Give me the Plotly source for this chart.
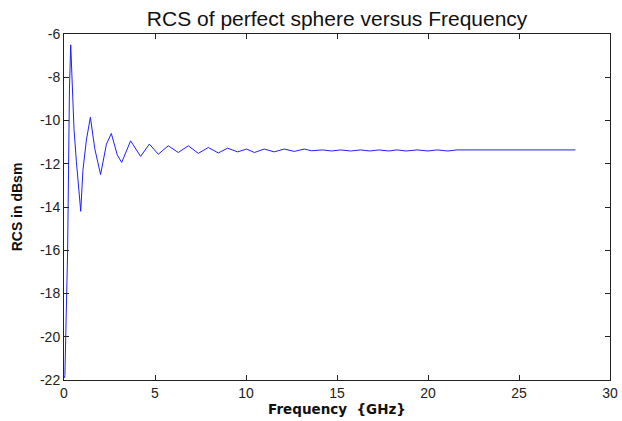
import plotly.graph_objects as go

# Sphere RCS samples (GHz, dBsm)
freq_ghz = [0.02, 0.05, 0.1, 0.2, 0.25, 0.3, 0.37, 0.44, 0.55, 0.68, 0.8, 0.92,
            1.04, 1.23, 1.45, 1.69, 2.01, 2.33, 2.6, 2.93, 3.17, 3.66, 4.21,
            4.69, 5.18, 5.73, 6.28, 6.83, 7.38, 7.93, 8.48, 8.99, 9.54, 10.04,
            10.46, 11.0, 11.55, 12.1, 12.65, 13.2, 13.6, 14.2, 14.7, 15.2,
            15.75, 16.3, 16.8, 17.3, 17.85, 18.3, 18.8, 19.4, 20.0, 20.5,
            21.1, 21.6, 28.1]
rcs_dbsm = [-21.9, -21.8, -19.8, -16.0, -12.2, -8.5, -6.5, -7.8, -10.4, -11.9,
            -13.0, -14.2, -12.3, -10.9, -9.85, -11.3, -12.5, -11.1, -10.6,
            -11.6, -11.94, -10.94, -11.66, -11.09, -11.56, -11.17, -11.48,
            -11.17, -11.52, -11.25, -11.5, -11.28, -11.45, -11.32, -11.48,
            -11.32, -11.45, -11.32, -11.43, -11.32, -11.4, -11.36, -11.41,
            -11.36, -11.41, -11.36, -11.41, -11.36, -11.41, -11.36, -11.41,
            -11.36, -11.41, -11.36, -11.41, -11.36, -11.36]

x_ticks = [0, 5, 10, 15, 20, 25, 30]
x_labels = ["0", "5", "10", "15", "20", "25", "30"]
y_ticks = [-22, -20, -18, -16, -14, -12, -10, -8, -6]
y_labels = ["-22", "-20", "-18", "-16", "-14", "-12", "-10", "-8", "-6"]

fig = go.Figure()
fig.add_trace(go.Scatter(x=freq_ghz, y=rcs_dbsm, mode="lines",
                         line={"color": "#1f1fff", "width": 1}))

axis_style = dict(showline=True, linecolor="#222", linewidth=1, mirror="ticks",
                  ticks="inside", ticklen=5, tickcolor="#222", showgrid=False,
                  zeroline=False, automargin=False,
                  tickfont={"size": 14, "color": "#222",
                            "family": "Liberation Sans, Arial"})
fig.update_xaxes(range=[0, 30], tickvals=x_ticks, ticktext=x_labels, **axis_style,
                 title={"text": "<b>Frequency  {GHz}</b>", "standoff": 3,
                        "font": {"size": 13.5, "color": "#111",
                                 "family": "DejaVu Sans, Liberation Sans"}})
fig.update_yaxes(range=[-22, -6], tickvals=y_ticks, ticktext=y_labels, **axis_style,
                 title={"text": "<b>RCS in dBsm</b>", "standoff": 14,
                        "font": {"size": 14, "color": "#111",
                                 "family": "Liberation Sans, Arial"}})
fig.update_layout(
    width=622, height=421,
    margin={"l": 64, "r": 12, "t": 34, "b": 41},
    paper_bgcolor="white", plot_bgcolor="white",
    showlegend=False,
    title={"text": "RCS of perfect sphere versus Frequency", "x": 0.542,
           "xanchor": "center", "y": 0.955, "yanchor": "middle",
           "font": {"size": 21, "color": "#111", "family": "Liberation Sans, Arial"}},
)
# drop the browser's default body margin so the figure fills the window exactly
fig.write_html("out.html", config={"displayModeBar": False},
               post_script="document.body.style.margin='0px';")
